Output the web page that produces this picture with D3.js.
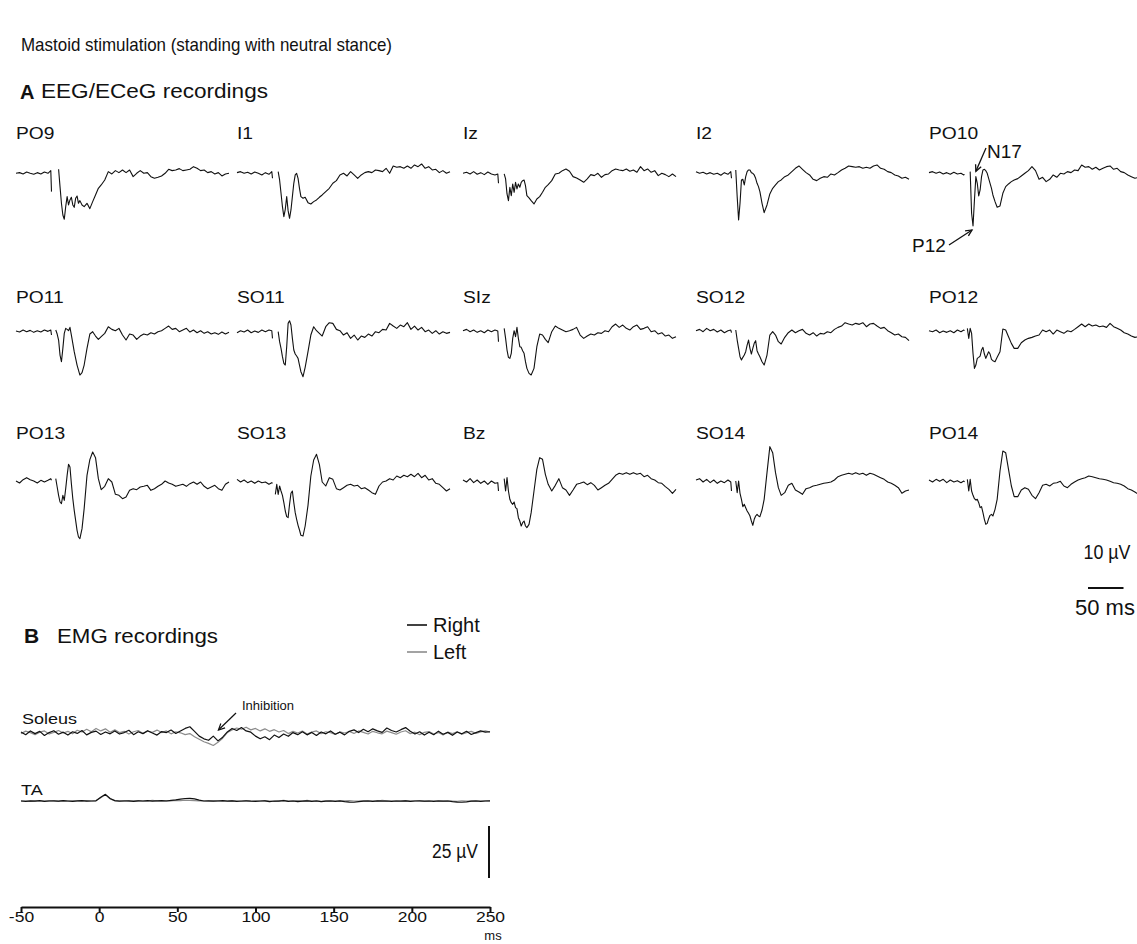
<!DOCTYPE html>
<html><head><meta charset="utf-8">
<script src="https://cdn.jsdelivr.net/npm/d3@7"></script>
<style>
body{margin:0;background:#fff}
text{font-family:"Liberation Sans",Arial,Helvetica,sans-serif;fill:#111}
</style>
</head><body>
<svg id="c" width="1137" height="944"></svg>
<script>
// ---------- EEG data (µV, positive = downward; null = blanked stimulus artefact) ----------
const eegTimes = [-50,-45,-40,-35,-30,-25,-20,-15,-10,-5,-1,0,2,4,6,8,10,12,14,16,18,20,22,24,26,28,30,32,34,36,38,40,43,46,50,54,58,62,66,70,75,80,85,90,95,100,105,110,115,120,125,130,135,140,145,150,155,160,165,170,175,180,185,190,195,200,205,210,215,220,225,230,235,240,245,250];

const PO9 = [0,-0.2,0.2,-0.4,0,0.3,-0.2,0.2,-0.4,0,-0.8,5.5, null,null,null,null, -1.2,4.0,9,12.5,13.8,10,7,9.5,8,7.2,9.5,10.2,7.5,6.8,9,8.2, 9.5,10,9,10.6,8.5,6.5,4.5, 3.5,2,-0.5,0.2,-0.8,-0.2,-1,-0.2,-1,1.0,0,-0.8,0,-0.2,1.0,1.5,1.2,0.8,0,-1.2,-0.8,-1,-1.4,-0.8,-1,-1.2,-2,-1.5,-0.8,-1,-0.2,-0.5,0.2,-0.2,0.8,0.2,0];
const I1 = [-0.2,-0.5,0,-0.3,0.2,-0.4,0,0.5,-0.2,0.3,-0.5,1.5, null,null,null,-0.5, 2,6,10,13,10.8,7,11.2,13.5,11,7,3,0.5,0,1.5,4.5,7, 7.5,7.2,8.8,9.2,8.5,8,7.2, 6.5,5.5,4.5,3,2.2,0.5,0,0.8,-0.5,0.5,1.5,0.5,-0.2,-0.5,-0.2,-1,-0.8,-0.5,-1.5,0,-2.2,-1.8,-2,-1.5,-2.2,-1.5,-2.5,-2,-2.8,-1.5,-2,-1,-1.2,-0.2,-0.8,0,-0.5];
const Iz = [0,-0.3,0.2,-0.5,0.3,-0.2,0.4,-0.4,0.2,0.5,0.2,3, null,null,null,0.2, 1.7,6.2,8.2,4.2,6.7,3.2,5.7,2.7,4.7,3.2,4.2,2.7,2.2,2.0,3.7,6.7, 7.4,8.2,9.2,7.7,7.0,5.7,4.2, 3.4,2.2,0.2,0,-0.8,-1.3,-0.6,1,1.4,2,2.7,1.7,0.4,0.7,0,1.2,0.4,0.2,-0.8,-1.3,-1,-0.8,-1.3,-0.6,-1,-0.3,-2,-0.8,-1.3,-0.3,-0.8,0.7,0,0.4,1,0.2,1];
const I2 = [-0.5,0,-0.3,0.2,-0.2,0.3,0,0.6,-0.2,0.3,-0.5,1.5, null,null,-1,7, 14,9,2,1.8,3.5,1,-0.5,-1,-1,-0.2,0,0.5,1.5,3,4,5.5, 9,11.8,9.5,6.2,4.5,3.5,2.5, 2,1,0.5,-0.5,-1.5,-2.2,-1.2,-0.2,0.5,1.8,2.2,1.5,1,1.2,0.2,0.5,-0.2,-1,-1.5,-2.2,-2,-1.8,-2,-1.5,-1.8,-1.5,-2.2,-2.5,-1.5,-1.2,-0.5,-0.2,0.5,0.8,1.5,1.2,1.8];
const PO10 = [-0.2,-0.5,0,-0.4,0.2,-0.2,0.3,-0.3,0.2,0,0.5,0.3, null,null,null,-0.5, 12,15.8,8,1,3,6.8,5,1,-1,-1.2,-0.8,0,1.5,3,4.5,6.5, 8.5,10.2,9.8,6,4,3.2,2.5, 2,1.6,0.8,0,-0.8,-2,-0.8,1.8,1.2,2.5,1.8,0.5,1.2,0,0.2,-0.5,-0.2,-1,-0.8,-2.5,-1.8,-2,-1.2,-1.8,-1,-1.5,-2,-2.2,-1.2,-1.5,-0.5,-0.2,0.5,1,1.5,1.2,2];

const PO11 = [-0.2,0.1,-0.5,0,-0.4,0.2,-0.3,0.1,-0.5,-0.1,-0.5,1, null,null,-0.5,0.7, 2.5,7,9,5,0.5,-1,-0.7,-0.3,-1.3,1,3.5,6,8,10,11.5,13, 12.3,10,5,0.7,0,1.3,2.3, 1.5,0.5,-1.5,-0.7,-0.3,-1,1,2.5,0.7,1,2.3,1.3,0.7,1,0.3,0.7,0,-0.3,-1,-1.7,-0.7,-1,0,-0.5,-1,0.1,-0.5,0.3,-0.3,0.5,0,0.7,0.3,0.8,0.1,0.7,0.2];
const SO11 = [0.3,-0.3,0.1,-0.5,0.3,-0.2,0.2,-0.5,0,-0.5,-0.3,2, null,null,null,0, 3,5,7.5,9.5,10,4.5,-2.5,-3.3,-2,2,5.5,6.7,7.3,8,10,12, 13.5,10.7,6,1,-1.5,-0.3,0.5, 1.3,-1.5,-2.7,-2.5,-0.7,-0.3,1,0.3,2,1,2.5,1.3,1.7,0.7,1.3,0,0.3,-0.7,-0.5,-2.5,-1.7,-1,-2,-1.5,-2.7,-0.7,-1.7,-0.5,-1.3,0,-0.5,0.5,-0.3,0.7,0,0.5,0.2];
const SIz = [-0.3,-0.7,0,-0.5,0.2,-0.3,0.3,-0.5,0,-0.5,-0.2,3, null,null,null,-1, 2,5.5,7.7,8,6.5,2,-0.3,1.5,-1.3,2,4.5,4.7,5.7,6.5,9,11, 12.5,13,11,4.5,0.7,1,2.3, 3.3,0,-1.7,-1,-0.5,0,-0.3,-0.7,-1.3,1,2,1.3,0.7,1,0.3,0.5,-0.3,0,-1.5,-2.3,-1.3,-2,-1,-0.5,-1.5,-2,-0.7,-1,-1.5,0,-0.3,0.7,0.3,1.3,1,2,1.5];
const SO12 = [-0.3,-0.7,0,-1,-0.3,-0.7,0.1,-0.5,0.3,-0.3,-0.5,0.3, null,null,-0.5,2.5, 5,7.5,8.5,7.7,7,6,4,2.5,5,6.7,5,3.5,2.7,5.7,6.7,7.5, 9,10,7,1,0,1,3, 3.7,1.7,0.3,-0.5,0.3,-0.3,-0.7,0.5,1,0.3,1.3,0.5,0.7,0,0.3,-0.7,-1.3,-1.7,-2.7,-2.3,-2,-2.5,-2.2,-2.7,-1.5,-2.3,-2.5,-1.7,-1,-1.3,-0.3,0.3,1,0.7,1.5,1.7,2.7];
const PO12 = [-0.3,0,-0.5,0.3,-0.2,0.2,-0.3,0.3,-0.5,0,-0.5,-0.3, null,-1,2,-1, 0.5,6.5,11,10,8,7.7,7.3,5.5,4.7,6.7,8,7,6,6.7,8.3,8.7, 9,7.7,6,-0.8,-0.5,1.5,3.5, 5,5,3.3,2.5,2,1.7,1.3,1,-0.5,0,-0.5,0.7,-0.5,0,0.5,-0.3,0,-0.7,-1.5,-2.3,-1.5,-2.3,-1.7,-2,-1.5,-1.7,-1.3,-2.5,-1.5,-1,-0.5,0.3,0.7,1.3,1.7,1.5,2.3];

const PO13 = [0,0.6,-0.4,-1,-0.4,0,0.6,-0.2,0.3,-0.2,-0.7,-0.2, null,null,-0.7,1.8, 4.3,6.3,6.8,4.3,5.8,2.3,-1.7,-5,-4.2,0.8,5.3,8.8,11.8,14.8,16.8,17.3, 14.3,8.3,-1.7,-6.4,-8.7,-7,-0.7, 2.6,1.6,-0.7,0.3,4,4.3,5.3,4.8,2.8,2.3,2.6,1.8,1.6,1.3,2.8,2.3,1.6,1,0,0.6,1,1.6,1.3,1,1.6,0.8,0.3,1,0.3,1.6,2.3,1.8,1.3,2.3,2.8,1,0.3];
const SO13 = [-0.5,0.3,-0.3,0.5,0,0.7,0,0.5,0.3,1,0.5,0.7, null,4,1,4, 1.5,3,4.3,6.5,9,10.7,11,7,3.7,3,6.5,9.5,11.5,13.3,14.7,16.3, 16.5,13.5,7.3,-1.5,-6.3,-8,-5, 0.3,1.5,-1,-0.5,2.3,2.7,2,1.3,1,1.5,1.3,2.3,2,2.7,3.5,4,1.5,0.3,0,-0.7,-0.3,-1.5,-1,-1.7,-1.3,-2,-1.3,-2.3,-1,-1.7,-0.3,-0.7,0.7,1,2,3,2.3];
const Bz = [-0.3,0.3,-0.7,0.5,-0.3,0.7,0,1,0,0.7,0.5,3, null,null,null,-0.7, 3,-1,3,5.5,6.5,7,6.3,8,8.3,11,12,13.5,12.5,12,13.5,14, 13,9.5,3,-3.5,-7,-6.5,-2, 1,3,1.3,-0.7,2,2.7,4.3,2.7,1,0.7,0.3,1.1,0.5,1.3,2.7,2,1.3,0.7,-0.5,-1.7,-2.3,-2,-2.5,-2,-2.5,-2,-2.3,-1.3,-1.7,-0.7,-0.3,0.5,0.7,1.7,2.5,3.7,2.5];
const SO14 = [-0.3,-0.7,0.3,-0.5,0.5,-0.3,0.7,0,0.5,-0.3,0.3,3, null,null,0,3.5, 0,3.7,5.5,7.7,7,8,9,9.7,10.5,12,13.3,11.5,10.5,10,10.5,10.7, 8.7,5.5,-2.5,-10.3,-8.5,-2.5,2, 4.3,3.5,1.3,0.7,2.7,3.3,4,2.3,2,1.5,1.3,1,0.7,0.5,0.3,-0.3,-1.3,-1.7,-2,-2.3,-2,-2.5,-2,-2.3,-1.7,-2.3,-2,-1.5,-1,-0.5,0.3,0.7,1.3,2,3.7,3,2.7];
const PO14 = [-0.3,0.3,-0.5,0.1,-0.5,0.5,-0.3,0.3,-0.1,0.5,0,0.3, null,-0.5,3,-0.5, 3,4.3,5.3,5.7,5.5,6.5,8,7.7,9.5,11.5,13,12.7,11.3,10.3,10,10.5, 8.5,5.5,-3,-9,-8.5,-3.5,1.5, 4.7,4.7,2.7,2,2.5,4.3,5.3,3.5,1.3,1,1.5,0.7,0.5,0.1,1.5,2,1,0.3,-0.3,-0.7,-1,-1.5,-1.3,-1,-0.7,-0.5,-0.3,0.1,0.5,0.7,1,1.5,2.3,2.7,3.3,4,4.3];

const eegRows = [
  [["PO9",PO9],["I1",I1],["Iz",Iz],["I2",I2],["PO10",PO10]],
  [["PO11",PO11],["SO11",SO11],["SIz",SIz],["SO12",SO12],["PO12",PO12]],
  [["PO13",PO13],["SO13",SO13],["Bz",Bz],["SO14",SO14],["PO14",PO14]]
];

// ---------- EMG data (µV, positive = upward), sampled every 3 ms from -50 to 250 ms ----------
const emgTimes = d3.range(-50, 251, 3);
const soleusRight = [0.5,-0.8,1.0,-0.3,0.8,-1.2,0.2,1.1,-0.6,0.4, -1.0,0.6,-0.2,1.2,-0.9,0.3,0.9,-0.7,0.5,-0.4, 1.0,-0.5,0.2,1.3,-0.8,0.6,-0.3,1.1,0.0,-1.0, 0.7,0.2,1.4,-0.2,1.0,2.2,3.0,0.8,-1.5,-2.8, -3.5,-1.5,-3.8,-2.0,0.5,2.2,1.2,2.6,1.0,0.4, -1.5,-2.8,-1.8,-3.2,-1.0,-2.2,-0.5,-1.6,0.2,-0.8, 0.6,-0.9,0.3,-1.2,0.5,-0.4,1.0,-0.6,0.4,-0.9, 0.8,1.5,0.2,1.8,0.6,2.0,1.0,0.3,2.4,1.2, 0.5,1.6,2.6,0.8,-0.5,0.6,-1.0,0.4,-0.8,0.9, -0.6,0.3,-1.1,0.5,-0.4,0.8,-0.7,0.2,1.0,0.4, 0.6];
const soleusLeft = [-0.3,0.9,0.2,-0.8,0.4,1.0,-0.5,0.3,1.2,0.0, 0.8,-0.4,1.3,0.5,1.8,0.6,2.2,1.0,2.0,0.4, 1.5,0.2,0.8,-0.5,0.6,1.2,-0.2,0.9,0.3,1.4, 0.2,1.0,-0.4,0.6,0.1,-0.8,-0.3,-1.8,-3.0,-4.2, -5.0,-6.0,-4.5,-2.5,0.2,1.5,2.4,1.8,2.8,1.5, 2.2,1.0,2.0,0.8,1.6,0.5,1.2,-0.3,0.8,0.0, 0.9,-0.5,0.4,1.0,-0.3,0.6,0.2,-0.7,0.5,0.0, 0.7,-0.2,1.0,0.3,-0.5,0.8,0.1,-0.4,0.9,0.2, -0.6,0.5,1.1,-0.3,0.4,-0.8,0.3,0.7,-0.5,0.2, -0.9,0.4,-0.3,0.6,-0.6,0.2,0.8,-0.2,0.5,1.0, 0.4];
const taRight = [0.0,-0.2,0.1,-0.1,0.2,-0.2,0.0,0.1,-0.1,0.2, 0.0,-0.2,0.1,0.2,-0.1,0.0,0.1,1.8,3.2,1.2, 0.2,-0.1,0.0,0.1,-0.2,0.1,0.0,0.2,-0.1,0.1, 0.2,0.0,0.3,0.5,0.9,1.2,1.3,1.0,0.4,0.0, 0.1,-0.1,0.0,0.2,-0.1,0.1,-0.2,0.0,0.1,-0.1, -0.2,0.0,0.1,-0.3,0.0,-0.1,0.2,-0.2,0.0,-0.3, -0.1,0.1,-0.2,0.0,-0.3,-0.1,0.0,-0.2,0.1,-0.3, -0.5,-0.6,-0.3,-0.1,0.0,-0.2,0.1,-0.1,0.0,-0.2, 0.0,-0.1,0.1,-0.2,0.0,0.1,-0.1,0.0,-0.2,0.0, -0.1,0.0,-0.3,-0.5,-0.6,-0.4,-0.1,0.0,-0.2,0.0, 0.1];
const taLeft = [0.1,0.0,-0.2,0.1,0.0,-0.1,0.2,0.0,-0.2,0.1, -0.1,0.1,0.0,-0.1,0.2,0.0,0.2,1.6,3.0,1.0, 0.1,0.0,0.2,-0.1,0.1,0.2,-0.1,0.0,0.3,0.1, 0.0,0.2,0.1,0.3,0.2,0.4,0.3,0.2,0.1,0.0, -0.1,0.1,0.2,-0.1,0.0,0.2,0.0,-0.2,0.1,0.0, 0.1,-0.1,0.2,0.0,-0.2,0.1,0.3,-0.1,0.1,0.2, -0.1,0.3,0.0,0.2,-0.2,0.1,0.2,0.0,-0.1,0.1, 0.2,0.0,-0.1,0.1,0.2,-0.1,0.0,0.3,0.1,-0.1, 0.1,0.0,0.2,-0.1,0.1,0.0,-0.2,0.1,0.0,0.2, -0.1,0.1,0.0,-0.2,0.1,0.0,-0.1,0.2,0.0,0.1, 0.0];
const emgTicks = [-50,0,50,100,150,200,250];
const legendItems = [["Right","#111"],["Left","#8c8c8c"]];

// ---------- layout ----------
const svg = d3.select("#c");
const colX = [16, 237, 463, 696, 929];
const rowBase = [173.3, 331.7, 481];
const rowLabelY = [139, 303, 439];

const xE = d3.scaleLinear().domain([-50,250]).range([0,213]);
const yE = d3.scaleLinear().domain([0,10]).range([0,33.33]);

function addText(x, y, s, size, opts = {}) {
  const t = svg.append("text").attr("x", x).attr("y", y).text(s)
    .style("font-size", size + "px")
    .attr("text-anchor", opts.anchor || "start")
    .style("font-weight", opts.bold ? "bold" : "normal");
  if (opts.stretch) {
    const len = t.node().getComputedTextLength();
    t.attr("textLength", len * opts.stretch).attr("lengthAdjust", "spacingAndGlyphs");
  }
  if (opts.width) t.attr("textLength", opts.width).attr("lengthAdjust", "spacingAndGlyphs");
  return t;
}

addText(21, 51, "Mastoid stimulation (standing with neutral stance)", 19, {width:371});
addText(20, 99, "A", 20, {bold:true});
addText(41, 98, "EEG/ECeG recordings", 20, {width:227});

const lineE = d3.line().defined(d => d[1] != null)
  .x(d => xE(d[0])).y(d => yE(d[1]));

eegRows.forEach((row, r) => {
  row.forEach(([name, vals], c) => {
    addText(colX[c], rowLabelY[r], name, 16, {stretch:1.2});
    const pts = eegTimes.map((t,i) => [t, vals[i]]);
    svg.append("path")
      .attr("transform", `translate(${colX[c]},${rowBase[r]})`)
      .attr("d", lineE(pts))
      .attr("fill","none").attr("stroke","#111").attr("stroke-width",1.1)
      .attr("stroke-linejoin","round");
  });
});

function arrow(x1,y1,x2,y2,head=7,sw=1.3) {
  const a = Math.atan2(y2-y1, x2-x1);
  const g = svg.append("g").attr("stroke","#111").attr("stroke-width",sw).attr("fill","none");
  g.append("line").attr("x1",x1).attr("y1",y1).attr("x2",x2).attr("y2",y2);
  const p = d3.path();
  p.moveTo(x2 - head*Math.cos(a-0.45), y2 - head*Math.sin(a-0.45));
  p.lineTo(x2,y2);
  p.lineTo(x2 - head*Math.cos(a+0.45), y2 - head*Math.sin(a+0.45));
  g.append("path").attr("d", p.toString());
}

// PO10 annotations
const p12x = colX[4] + xE(12), p12y = rowBase[0] + yE(15.8);
arrow(949, 245, p12x - 1, p12y + 4);
addText(912, 252, "P12", 19);
const n17x = colX[4] + xE(16), n17y = rowBase[0] + yE(0);
arrow(986, 148, n17x, n17y - 2);
addText(987, 158, "N17", 19);

// EEG scale bar
addText(1107, 559, "10 µV", 20, {anchor:"middle", width:47});
svg.append("line").attr("x1", 1088).attr("x2", 1088 + xE(0) - xE(-50))
  .attr("y1", 588).attr("y2", 588).attr("stroke","#111").attr("stroke-width",2.2);
addText(1105, 615, "50 ms", 22, {anchor:"middle"});

// ---------- Panel B ----------
addText(24, 643, "B", 21, {bold:true});
addText(57, 643, "EMG recordings", 21, {width:161});

legendItems.forEach(([lab,col],i) => {
  const y = 625 + i*27;
  svg.append("line").attr("x1",407).attr("x2",427).attr("y1",y).attr("y2",y)
    .attr("stroke",col).attr("stroke-width",1.6);
  addText(433, y + 7, lab, 20);
});

const xM = d3.scaleLinear().domain([-50,250]).range([21,490]);
const yM = d3.scaleLinear().domain([0,25]).range([0,-52]);
const soleusBase = 733, taBase = 801;

addText(22, 724, "Soleus", 15, {stretch:1.2});
addText(21, 795, "TA", 15, {stretch:1.2});

const lineM = d3.line().x(d => xM(d[0])).y(d => yM(d[1]));
function emg(vals, base, col) {
  svg.append("path").attr("transform",`translate(0,${base})`)
    .attr("d", lineM(emgTimes.map((t,i)=>[t, vals[i]])))
    .attr("fill","none").attr("stroke",col).attr("stroke-width",1.2).attr("stroke-linejoin","round");
}
emg(soleusLeft, soleusBase, "#8c8c8c");
emg(soleusRight, soleusBase, "#111");
emg(taLeft, taBase, "#8c8c8c");
emg(taRight, taBase, "#111");

addText(242, 710, "Inhibition", 13);
arrow(236, 713, xM(75)+2, soleusBase - 3, 7, 1.2);

// 25 µV bar
svg.append("line").attr("x1",489).attr("x2",489)
  .attr("y1", 878 + yM(25)).attr("y2", 878)
  .attr("stroke","#111").attr("stroke-width",2);
addText(478, 858, "25 µV", 20, {anchor:"end", width:46});

// time axis
const ax = svg.append("g").attr("transform","translate(0,907)")
  .call(d3.axisBottom(xM).tickValues(emgTicks).tickSize(5).tickSizeOuter(0).tickFormat(d => String(d)));
ax.select(".domain").attr("stroke","#111").attr("stroke-width",2.2);
ax.selectAll(".tick line").attr("stroke","#111").attr("stroke-width",2);
ax.selectAll(".tick text").attr("fill","#111").style("font-size","14px")
  .style("font-family",'"Liberation Sans",Arial,sans-serif').attr("dy","0.71em").attr("y",5)
  .each(function(){ const l=this.getComputedTextLength(); this.setAttribute("textLength", l*1.25); this.setAttribute("lengthAdjust","spacingAndGlyphs"); });
addText(493, 940, "ms", 13, {anchor:"middle"});
</script>
</body></html>
